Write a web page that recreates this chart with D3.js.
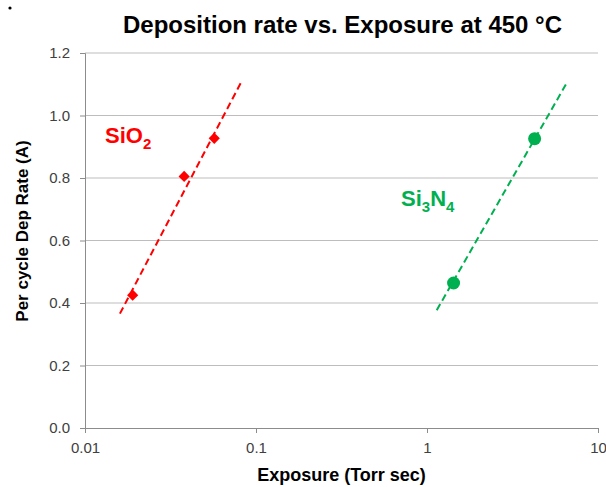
<!DOCTYPE html>
<html>
<head>
  <meta charset="UTF-8">
  <style>
    body { margin: 0; padding: 0; background: #fff; font-family: Arial, "Liberation Sans", sans-serif; }
    svg { display: block; }
  </style>
</head>
<body>
  <svg id="chart"></svg>
  <script src="https://d3js.org/d3.v7.min.js"></script>
  <script>
    // values
    const sio2Exposure = [0.019, 0.038, 0.057];
    const sio2Rate = [0.425, 0.805, 0.927];
    const sio2Trend = [[0.016, 0.366], [0.082, 1.107]];

    const sinExposure = [1.43, 4.26];
    const sinRate = [0.464, 0.926];
    const sinTrend = [[1.14, 0.377], [6.5, 1.10]];

    const xTicks = [0.01, 0.1, 1, 10];
    const xTickLabels = ["0.01", "0.1", "1", "10"];
    const yTicks = [0, 0.2, 0.4, 0.6, 0.8, 1.0, 1.2];

    const width = 606, height = 487;
    const margin = { left: 85, right: 8, top: 53, bottom: 59 };

    const svg = d3.select("#chart")
        .attr("width", width)
        .attr("height", height);

    const x = d3.scaleLog().domain([0.01, 10]).range([margin.left, width - margin.right]);
    const y = d3.scaleLinear().domain([0, 1.2]).range([height - margin.bottom, margin.top]);

    // stray bullet in the top-left corner
    svg.append("circle").attr("cx", 10).attr("cy", 8).attr("r", 1.6).attr("fill", "#000");

    // title
    svg.append("text")
        .attr("x", 342.5)
        .attr("y", 33)
        .attr("text-anchor", "middle")
        .style("font-size", "24px")
        .style("font-weight", "bold")
        .text("Deposition rate vs. Exposure at 450 \u00B0C");

    // horizontal gridlines
    svg.append("g")
        .selectAll("line")
        .data(yTicks.filter(d => d > 0))
        .enter()
        .append("line")
        .attr("x1", x(0.01))
        .attr("x2", x(10))
        .attr("y1", d => y(d))
        .attr("y2", d => y(d))
        .attr("stroke", "#bdbdbd")
        .attr("stroke-width", 1);

    // y axis
    const yAxis = svg.append("g")
        .attr("transform", `translate(${x(0.01)},0)`)
        .call(d3.axisLeft(y).tickValues(yTicks).tickFormat(d3.format(".1f")).tickSize(5).tickPadding(10));

    // x axis
    const xAxis = svg.append("g")
        .attr("transform", `translate(0,${y(0)})`)
        .call(d3.axisBottom(x).tickValues(xTicks).tickFormat((d, i) => xTickLabels[i]).tickSize(5).tickPadding(9));

    [yAxis, xAxis].forEach(g => {
        g.select(".domain").attr("stroke", "#8c8c8c");
        g.selectAll(".tick line").attr("stroke", "#8c8c8c");
        g.selectAll(".tick text")
            .attr("fill", "#404040")
            .style("font-size", "15px")
            .style("font-family", "Arial, 'Liberation Sans', sans-serif");
    });

    // axis titles
    svg.append("text")
        .attr("x", (x(0.01) + x(10)) / 2)
        .attr("y", 481)
        .attr("text-anchor", "middle")
        .style("font-size", "18px")
        .style("font-weight", "bold")
        .text("Exposure (Torr sec)");

    svg.append("text")
        .attr("transform", "translate(28,231) rotate(-90)")
        .attr("text-anchor", "middle")
        .style("font-size", "17px")
        .style("font-weight", "bold")
        .text("Per cycle Dep Rate (A)");

    const line = d3.line().x(d => x(d[0])).y(d => y(d[1]));

    // trend lines
    svg.append("path")
        .attr("d", line(sio2Trend))
        .attr("fill", "none")
        .attr("stroke", "#ff0000")
        .attr("stroke-width", 2)
        .attr("stroke-dasharray", "7,4");

    svg.append("path")
        .attr("d", line(sinTrend))
        .attr("fill", "none")
        .attr("stroke", "#00b050")
        .attr("stroke-width", 2)
        .attr("stroke-dasharray", "7,4");

    // SiO2 diamonds
    svg.append("g")
        .selectAll("path")
        .data(sio2Exposure.map((d, i) => [d, sio2Rate[i]]))
        .enter()
        .append("path")
        .attr("transform", d => `translate(${x(d[0])},${y(d[1])})`)
        .attr("d", d3.symbol(d3.symbolDiamond2, 80))
        .attr("fill", "#ff0000");

    // Si3N4 circles
    svg.append("g")
        .selectAll("circle")
        .data(sinExposure.map((d, i) => [d, sinRate[i]]))
        .enter()
        .append("circle")
        .attr("cx", d => x(d[0]))
        .attr("cy", d => y(d[1]))
        .attr("r", 6.5)
        .attr("fill", "#00b050");

    // series labels
    const sio2Label = svg.append("text")
        .attr("x", 105)
        .attr("y", 143)
        .attr("fill", "#ff0000")
        .style("font-size", "22px")
        .style("font-weight", "bold");
    sio2Label.append("tspan").text("SiO");
    sio2Label.append("tspan").attr("dy", 6).style("font-size", "15px").text("2");

    const sinLabel = svg.append("text")
        .attr("x", 401)
        .attr("y", 206)
        .attr("fill", "#00b050")
        .style("font-size", "22px")
        .style("font-weight", "bold");
    sinLabel.append("tspan").text("Si");
    sinLabel.append("tspan").attr("dy", 6).style("font-size", "15px").text("3");
    sinLabel.append("tspan").attr("dy", -6).text("N");
    sinLabel.append("tspan").attr("dy", 6).style("font-size", "15px").text("4");
  </script>
</body>
</html>
